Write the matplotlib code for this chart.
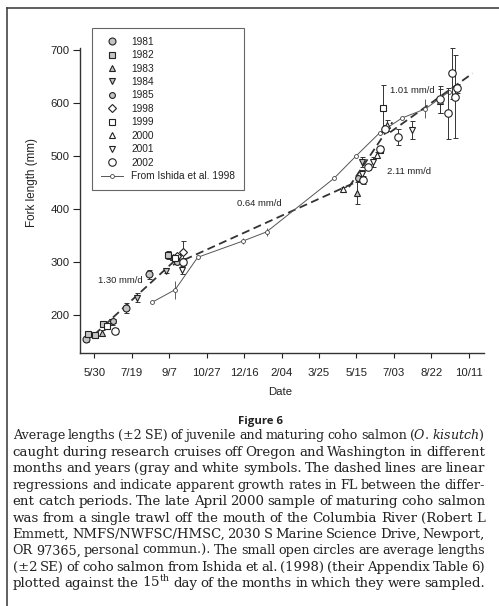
import numpy as np
import matplotlib.pyplot as plt
from matplotlib.lines import Line2D

plt.rcParams['font.family'] = ['Liberation Sans', 'DejaVu Sans']
plt.rcParams['mathtext.fontset'] = 'dejavuserif'

W, H = 499, 606
ink = '#222222'

# x axis is days counted from 30 May; ticks every 50 days
tick_days = [0, 50, 100, 150, 200, 250, 300, 350, 400, 450, 500]
tick_labels = ['5/30', '7/19', '9/7', '10/27', '12/16', '2/04', '3/25',
               '5/15', '7/03', '8/22', '10/11']
y_ticks = [200, 300, 400, 500, 600, 700]

years = ['1981', '1982', '1983', '1984', '1985',
         '1998', '1999', '2000', '2001', '2002']
markers = ['o', 's', '^', 'v', 'o', 'D', 's', '^', 'v', 'o']
faces = ['#c4c4c4', '#c4c4c4', '#c4c4c4', '#c4c4c4', '#c4c4c4',
         'white', 'white', 'white', 'white', 'white']
msizes = [5, 4, 4.6, 4.6, 4.2, 4.4, 4.6, 4.8, 4.8, 5.4]

# samples per year: day, mean fork length (mm), 2 SE
day_1981 = [-11.5, 42.3, 73.0]
mm_1981 = [154, 213, 277]
se_1981 = [4, 9, 9]

day_1982 = [-8, 1, 11.2, 98]
mm_1982 = [164, 162, 183, 313]
se_1982 = [6, 5, 5, 7]

day_1983 = [9.9, 105.5, 350.3]
mm_1983 = [166, 309, 430]
se_1983 = [5, 4, 21]

day_1984 = [23.2, 56.6, 95.3, 357]
mm_1984 = [186, 233, 284, 489]
se_1984 = [5, 8, 5, 10]

day_1985 = [25.4, 110, 352.5]
mm_1985 = [189, 301, 458]
se_1985 = [4, 5, 5]

day_1998 = [110, 118]
mm_1998 = [311, 319]
se_1998 = [4, 20]

day_1999 = [16.6, 107.7, 381, 385]
mm_1999 = [180, 308, 511, 590]
se_1999 = [5, 4, 5, 45]

day_2000 = [332.4, 377, 390.4, 461]
mm_2000 = [437, 502, 558, 604]
se_2000 = [4, 6, 10, 22]

day_2001 = [116.7, 357, 372.5, 423.8]
mm_2001 = [285, 467, 489, 549]
se_2001 = [8, 6, 10, 17]

day_2002 = [27.6, 118.8, 359, 365.8, 381.4, 387.6, 405.9, 461.5,
            472.8, 477, 481.6, 484]
mm_2002 = [170, 301, 455, 480, 514, 552, 536, 607, 581, 656, 612, 628]
se_2002 = [6, 7, 8, 6, 6, 6, 15, 25, 48, 48, 78, 8]

year_days = [day_1981, day_1982, day_1983, day_1984, day_1985,
             day_1998, day_1999, day_2000, day_2001, day_2002]
year_mm = [mm_1981, mm_1982, mm_1983, mm_1984, mm_1985,
           mm_1998, mm_1999, mm_2000, mm_2001, mm_2002]
year_se = [se_1981, se_1982, se_1983, se_1984, se_1985,
           se_1998, se_1999, se_2000, se_2001, se_2002]

# Ishida et al. 1998, plotted on the 15th of each month
ishida_day = [77, 108, 138, 199, 230, 320, 350, 381, 411, 442, 473]
ishida_mm = [224, 248, 309, 340, 357, 458, 501, 544, 572, 589, 621]
ishida_se = [0, 17, 3, 5, 7, 0, 0, 0, 0, 18, 0]

# regression segments: start day, end day, length at start, rate (mm/d)
fit_start = [0, 105, 340, 395]
fit_end = [122, 352, 398, 505]
fit_mm0 = [163, 294.6, 441.5, 545]
fit_rate = [1.30, 0.64, 2.11, 1.01]
rate_labels = ['1.30 mm/d', '0.64 mm/d', '2.11 mm/d', '1.01 mm/d']
label_day = [5, 191, 391, 395]
label_mm = [266, 411, 470, 624]

fig = plt.figure(figsize=(W / 100, H / 100), dpi=100)
ax = fig.add_axes([80 / W, 1 - 352.7 / H, 404 / W, (352.7 - 48) / H])

for s, e, m0, r in zip(fit_start, fit_end, fit_mm0, fit_rate):
    d = np.array([s, e])
    ax.plot(d, m0 + r * (d - s), ls=(0, (4.5, 2.5)), color='#333333',
            lw=1.3, zorder=2)

ax.errorbar(ishida_day, ishida_mm, yerr=ishida_se, fmt='none',
            ecolor='#444444', elinewidth=0.6, capsize=0, zorder=2)
ax.plot(ishida_day, ishida_mm, '-o', color='#555555', lw=0.7, ms=2.8,
        mfc='white', mec='#444444', mew=0.6, zorder=3,
        label='From Ishida et al. 1998')

handles = []
for y, m, fc, ms, dd, mm, se in zip(years, markers, faces, msizes,
                                    year_days, year_mm, year_se):
    ax.errorbar(dd, mm, yerr=se, fmt='none', ecolor='#333333',
                elinewidth=0.7, capsize=1.8, capthick=0.7, zorder=4)
    h, = ax.plot(dd, mm, ls='none', marker=m, mfc=fc, mec='#222222',
                 mew=0.8, ms=ms, zorder=5, label=y)
    handles.append(h)

ishida_handle = Line2D([], [], color='#555555', lw=0.7, marker='o', ms=2.8,
                       mfc='white', mec='#444444', mew=0.6)
handles.append(ishida_handle)

for t, d, m in zip(rate_labels, label_day, label_mm):
    ax.text(d, m, t, fontsize=6.8, ha='left', va='center', color=ink)

ax.set_xlim(-19.1, 520.3)
ax.set_ylim(129, 704)
ax.set_xticks(tick_days)
ax.set_xticklabels(tick_labels)
ax.set_yticks(y_ticks)
for side in ['top', 'right']:
    ax.spines[side].set_visible(False)
for side in ['left', 'bottom']:
    ax.spines[side].set_color('#333333')
    ax.spines[side].set_linewidth(1.0)
ax.tick_params(axis='x', direction='out', length=3.6, width=0.8,
               pad=7.4, labelsize=8.2, colors=ink)
ax.tick_params(axis='y', direction='out', length=5, width=0.8,
               pad=2.5, labelsize=8.2, colors=ink)

ax.set_xlabel('Date', fontsize=8.2, color=ink, va='center')
ax.xaxis.set_label_coords(0.496, -0.128)
ax.set_ylabel('Fork length (mm)', fontsize=8.4, color=ink, va='center')
ax.yaxis.set_label_coords(-0.119, 0.56)

leg = ax.legend(handles, years + ['From Ishida et al. 1998'],
                loc='upper left', bbox_to_anchor=(92 / W, 1 - 28 / H),
                bbox_transform=fig.transFigure, borderaxespad=0,
                fontsize=7.3, frameon=True, fancybox=False, framealpha=1,
                edgecolor='#666666', borderpad=0.85, labelspacing=0.34,
                handlelength=2.2, handletextpad=0.8, numpoints=1)
leg.get_frame().set_linewidth(0.8)
for t in leg.get_texts():
    t.set_color(ink)

# page frame pieces
fig.add_artist(Line2D([7 / W, 1], [1 - 8 / H, 1 - 8 / H],
                      transform=fig.transFigure, color='#444444', lw=1.2))
fig.add_artist(Line2D([7 / W, 7 / W], [1 - 8 / H, 0],
                      transform=fig.transFigure, color='#444444', lw=1.2))

fig.text(261 / W, 1 - 424 / H, 'Figure 6', ha='center', va='baseline',
         fontsize=8.2, fontweight='bold', family='Open Sans', color=ink)

caption = [
    r'Average lengths (±2 SE) of juvenile and maturing coho salmon ($\mathit{O.}$ $\mathit{kisutch}$)',
    'caught during research cruises off Oregon and Washington in different',
    'months and years (gray and white symbols. The dashed lines are linear',
    'regressions and indicate apparent growth rates in FL between the differ-',
    'ent catch periods. The late April 2000 sample of maturing coho salmon',
    'was from a single trawl off the mouth of the Columbia River (Robert L',
    'Emmett, NMFS/NWFSC/HMSC, 2030 S Marine Science Drive, Newport,',
    'OR 97365, personal commun.). The small open circles are average lengths',
    '(±2 SE) of coho salmon from Ishida et al. (1998) (their Appendix Table 6)',
    r'plotted against the 15$^{\mathrm{th}}$ day of the months in which they were sampled.',
]
cap_font = 'DejaVu Serif'
cap_left, cap_right = 12.7, 485.0
span = cap_right - cap_left
renderer = fig.canvas.get_renderer()

# size that lets each line fit with a small minimum word gap
fit_sizes = []
for ln in caption:
    words = ln.split(' ')
    probe = [fig.text(0, 0, w, fontsize=10, family=cap_font) for w in words]
    sw = sum(p.get_window_extent(renderer).width for p in probe)
    for p in probe:
        p.remove()
    fit_sizes.append(10 * (span - 2.6 * (len(words) - 1)) / sw)
base_size = float(np.median(fit_sizes))

for i, ln in enumerate(caption):
    size = min(base_size, fit_sizes[i])
    baseline = 1 - (439.3 + i * 16.45) / H
    words = ln.split(' ')
    texts = [fig.text(0, baseline, w, fontsize=size, family=cap_font,
                      va='baseline', ha='left', color=ink) for w in words]
    widths = [t.get_window_extent(renderer).width for t in texts]
    gap = (span - sum(widths)) / max(len(words) - 1, 1)
    x = cap_left
    for t, w in zip(texts, widths):
        t.set_x(x / W)
        x += w + gap

fig.savefig('out.png', dpi=100)
